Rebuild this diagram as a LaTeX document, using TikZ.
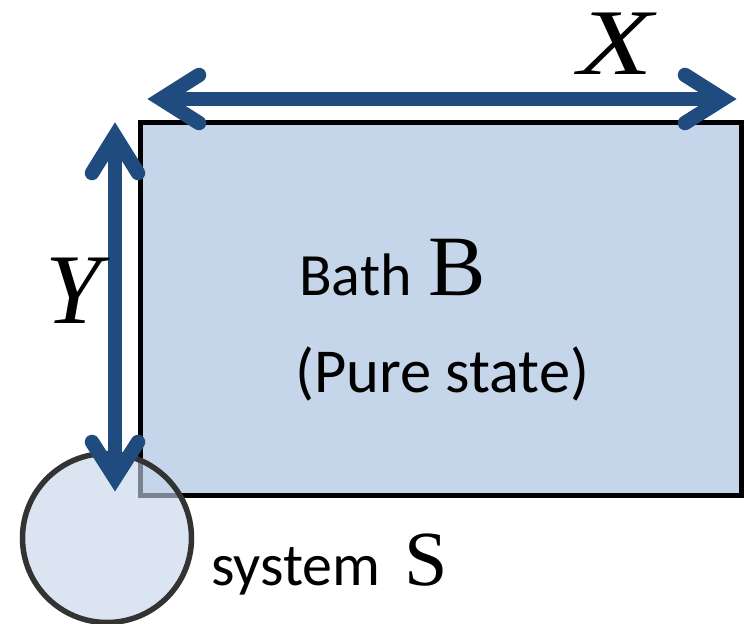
\documentclass[tikz,border=0pt]{standalone}
\usepackage{fontspec}
\setmainfont{Liberation Serif}
\newfontfamily\calib{Carlito}
\newfontfamily\timesit{Liberation Serif Italic}
\definecolor{arrowblue}{HTML}{1F4B7F}
\definecolor{bathfill}{HTML}{C5D5EA}
\definecolor{sysdraw}{HTML}{333333}
\tikzset{
  bathbox/.style={draw=black, line width=5pt, fill=bathfill},
  sysdisk/.style={draw=sysdraw, line width=5.5pt, fill=bathfill, fill opacity=0.62, draw opacity=1},
  shaftline/.style={draw=arrowblue, line width=14.5pt, line cap=butt},
  barbline/.style={draw=arrowblue, line width=14.5pt, line cap=round, line join=miter},
  lbl/.style={inner sep=0pt, anchor=base west, text=black},
}
\begin{document}
\begin{tikzpicture}[x=1pt,y=-1pt]
\useasboundingbox (0,0) rectangle (745,624);
% bath rectangle
\draw[bathbox] (140.5,122.5) rectangle (741.5,495);
% system disk
\node[sysdisk, circle, minimum size=169pt, inner sep=0pt] (sys) at (107,538) {};
% arrow end points
\coordinate (xl) at (161,99);
\coordinate (xr) at (723,99);
\coordinate (yt) at (115,136);
\coordinate (yb) at (115,478);
% X arrow
\draw[shaftline] (xl) -- (xr);
\draw[barbline] (xl) ++(38,-24) -- (xl) -- ++(38,24);
\draw[barbline] (xr) ++(-38,-24) -- (xr) -- ++(-38,24);
% Y arrow
\draw[shaftline] (yt) -- (yb);
\draw[barbline] (yt) ++(-23,37) -- (yt) -- ++(23,37);
\draw[barbline] (yb) ++(-23,-36) -- (yb) -- ++(23,-36);
% labels
\node[lbl, text height=62pt, text depth=0pt] (xlab) at (578,74) {\timesit\fontsize{94}{100}\selectfont\scalebox{1.3}[1]{X}};
\node[lbl, text height=66pt, text depth=0pt] (ylab) at (45,323) {\timesit\fontsize{100}{104}\selectfont Y};
\node[lbl] (bath) at (299,295) {\calib\fontsize{60}{72}\selectfont Bath};
\node[lbl] (bathB) at (428,295) {\fontsize{86}{96}\selectfont B};
\node[lbl] (pure) at (295,392) {\calib\fontsize{62.5}{72}\selectfont (Pure state)};
\node[lbl] (syst) at (211,585) {\calib\fontsize{60}{72}\selectfont system};
\node[lbl] (sysS) at (404,585) {\fontsize{78}{88}\selectfont S};
\end{tikzpicture}
\end{document}
